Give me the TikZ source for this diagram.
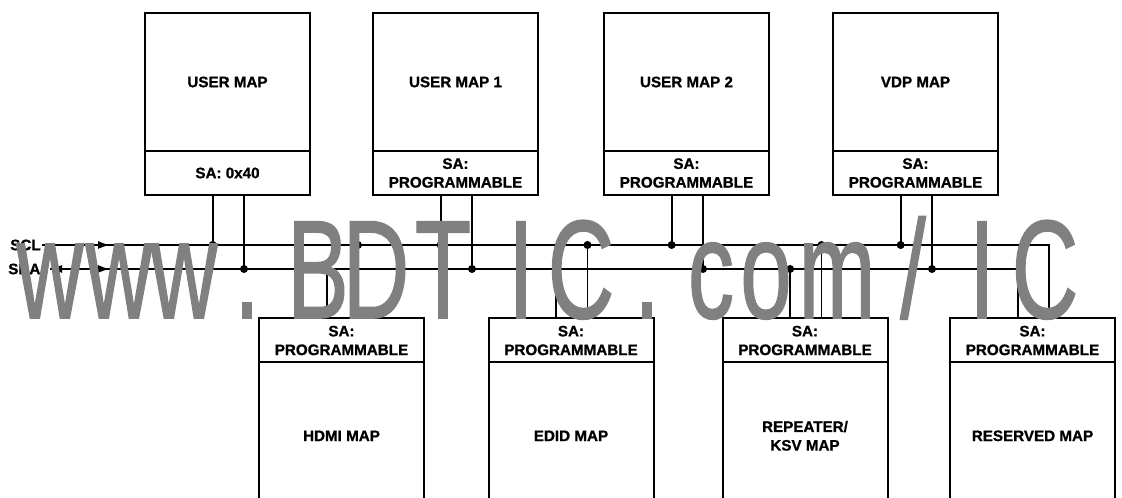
\documentclass[tikz,border=0pt]{standalone}
\usepackage{fontspec}
\setmainfont{Liberation Sans}[BoldFeatures={FakeBold=1}]
\newfontfamily\wmfont[FakeBold=1.2]{Liberation Sans}
\usetikzlibrary{positioning,calc,arrows.meta}
\definecolor{wmgray}{RGB}{128,128,128}

\tikzset{
  mapbox/.style={draw, rectangle, line width=1.5pt, outer sep=0pt, minimum width=123.75pt,
    align=center, font=\bfseries\fontsize{11.4}{14}\selectfont},
  topmap/.style={mapbox, minimum height=103.5pt},
  sabox/.style={mapbox, minimum height=33pt},
  botmap/.style={mapbox, minimum height=110pt},
  dot/.style={circle, fill, inner sep=0pt, minimum size=6pt},
  bus/.style={line width=1.3pt},
  siglabel/.style={anchor=west, inner sep=0pt, font=\bfseries\fontsize{11.4}{14}\selectfont},
  wmchar/.style={anchor=base, inner sep=0pt, xscale=0.66, text=wmgray,
    font=\wmfont\fontsize{105}{105}\selectfont},
}

\begin{document}
\begin{tikzpicture}[x=0.75pt, y=-0.75pt]
    \clip (0,0) rectangle (1122,498);

    % maps on top of the bus
    \node[topmap] (um) at (227.5,82) {USER MAP};
    \node[sabox, below=0pt of um] (umsa) {SA: 0x40};
    \node[topmap] (umo) at (455.5,82) {USER MAP 1};
    \node[sabox, below=0pt of umo] (umosa) {SA:\\PROGRAMMABLE};
    \node[topmap] (umt) at (686.5,82) {USER MAP 2};
    \node[sabox, below=0pt of umt] (umtsa) {SA:\\PROGRAMMABLE};
    \node[topmap] (vdp) at (915.5,82) {VDP MAP};
    \node[sabox, below=0pt of vdp] (vdpsa) {SA:\\PROGRAMMABLE};

    % maps below the bus
    \node[sabox] (hdmisa) at (341.5,340.5) {SA:\\PROGRAMMABLE};
    \node[botmap, below=0pt of hdmisa] (hdmi) {HDMI MAP};
    \node[sabox] (edidsa) at (571,340.5) {SA:\\PROGRAMMABLE};
    \node[botmap, below=0pt of edidsa] (edid) {EDID MAP};
    \node[sabox] (repsa) at (805,340.5) {SA:\\PROGRAMMABLE};
    \node[botmap, below=0pt of repsa] (rep) {REPEATER/\\KSV MAP};
    \node[sabox] (ressa) at (1032.5,340.5) {SA:\\PROGRAMMABLE};
    \node[botmap, below=0pt of ressa] (res) {RESERVED MAP};

    % bus lines
    \node[siglabel] (scllabel) at (10,245) {SCL};
    \node[siglabel] (sdalabel) at (8,269) {SDA};
    \coordinate (scl) at (42,245);
    \coordinate (sda) at (50,269);
    \coordinate (sclarr) at (110,245);
    \coordinate (sdaarr) at (110,269);
    \foreach \b in {um,umo,umt,vdp} {
        \coordinate (\b-l) at ($(\b sa.south west)!.41!(\b sa.south east)$);
        \coordinate (\b-r) at ($(\b sa.south west)!.6!(\b sa.south east)$);
    }
    \foreach \b in {hdmi,edid,rep,res} {
        \coordinate (\b-l) at ($(\b sa.north west)!.41!(\b sa.north east)$);
        \coordinate (\b-r) at ($(\b sa.north west)!.6!(\b sa.north east)$);
    }
    \draw[bus] (scl) -- (res-r |- scl) -- (res-r);
    \draw[bus] (sda) -- (res-l |- sda) -- (res-l);
    \draw[bus, -{Latex[length=9pt,width=6pt]}] (scl) -- (sclarr);
    \draw[bus, {Latex[length=9pt,width=6pt]}-{Latex[length=9pt,width=6pt]}] (sda) -- (sdaarr);

    \foreach \b in {um,umo,umt,vdp} {
        \draw[bus] (\b-l) -- (\b-l |- scl) node[dot] {};
        \draw[bus] (\b-r) -- (\b-r |- sda) node[dot] {};
    }
    \foreach \b in {hdmi,edid,rep} {
        \draw[bus] (\b-l) -- (\b-l |- sda) node[dot] {};
        \draw[bus] (\b-r) -- (\b-r |- scl) node[dot] {};
    }

    % watermark
    \foreach \ch/\x [count=\i] in {w/50, w/119, w/184, ./247, B/318, D/376, T/443, I/521,
        C/581, ./647, c/711, o/766, m/837, \slash/913, I/982, C/1045} {
        \node[wmchar] (wm\i) at (\x,318) {\ch};
    }
\end{tikzpicture}
\end{document}
